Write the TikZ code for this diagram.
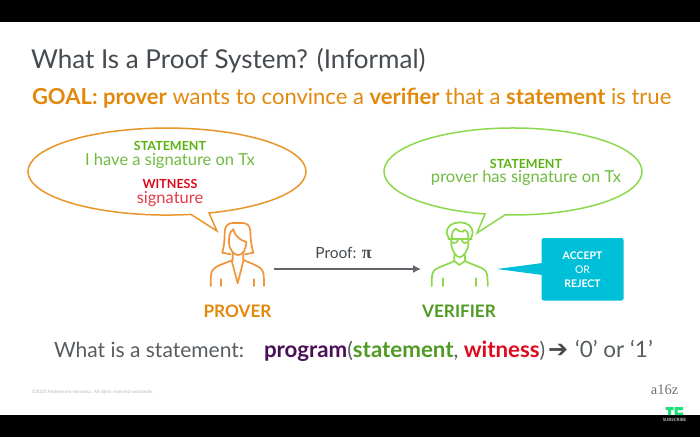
\documentclass[tikz,border=0pt]{standalone}
\usepackage{fontspec}
\usetikzlibrary{arrows.meta}
\setmainfont{Lato}
\newfontfamily\arrowfont{DejaVu Sans}
\newfontfamily\logofont{Liberation Serif}
\definecolor{titlegray}{HTML}{464B50}
\definecolor{goalorange}{HTML}{E2890C}
\definecolor{bubbleorange}{HTML}{E8952A}
\definecolor{iconorange}{HTML}{F0953A}
\definecolor{headgreen}{HTML}{5AB212}
\definecolor{textgreen}{HTML}{70BC40}
\definecolor{bubblegreen}{HTML}{8CD94E}
\definecolor{darkgreen}{HTML}{4F9A22}
\definecolor{headred}{HTML}{DF0A1E}
\definecolor{textred}{HTML}{E43C4A}
\definecolor{boxcyan}{HTML}{00BFD8}
\definecolor{progpurple}{HTML}{4A1057}
\definecolor{tcgreen}{HTML}{1EE07A}
\newcommand{\progbold}[2]{{\fontsize{22.3}{24}\selectfont\bfseries\textcolor{#1}{#2}}}
\tikzset{
  txt/.style={inner sep=0pt,outer sep=0pt},
  headlabel/.style={txt,font=\bfseries\fontsize{12.5}{14}\selectfont},
  bodylabel/.style={txt,font=\fontsize{16.5}{18}\selectfont},
  rolelabel/.style={txt,font=\bfseries\fontsize{17.2}{19}\selectfont,text=goalorange},
  bubble/.style={line width=1.5pt,fill=white,line join=miter},
  icon/.style={line width=1.7pt,line cap=round,line join=round},
}
\begin{document}
\begin{tikzpicture}[x=1pt,y=-1pt]
\useasboundingbox (0,0) rectangle (700,437);
\fill[white] (0,0) rectangle (700,437);
\fill[black] (0,0) rectangle (700,22);
\fill[black] (0,415) rectangle (700,437);

\node[txt,anchor=base west,text=titlegray,font=\fontsize{26}{30}\selectfont] (title) at (31,68) {What Is a Proof System? (Informal)};
\node[txt,anchor=base west,text=goalorange,font=\fontsize{22}{26}\selectfont] (goal) at (32,104.5) {\textbf{GOAL: prover} wants to convince a \textbf{verifier} that a \textbf{statement} is true};

% left bubble
\draw[bubble,draw=bubbleorange] (209,213) arc[start angle=-72.4,end angle=279.94,x radius=139pt,y radius=43.5pt] -- (217,231) -- cycle;
\node[headlabel,text=headgreen] (s1) at (170,146) {STATEMENT};
\node[bodylabel,text=textgreen] (s1b) at (170,161) {I have a signature on Tx};
\node[headlabel,text=headred] (w1) at (170,184) {WITNESS};
\node[bodylabel,text=textred] (w1b) at (170,199) {signature};

% right bubble
\draw[bubble,draw=bubblegreen] (505,214.9) arc[start angle=-93.55,end angle=257.5,x radius=129pt,y radius=43.5pt] -- (477,233) -- cycle;
\node[headlabel,text=headgreen] (s2) at (526,164) {STATEMENT};
\node[bodylabel,text=textgreen] (s2b) at (526,178) {prover has signature on Tx};

% prover icon
\begin{scope}[shift={(190,210)},scale=1/3,icon,draw=iconorange]
\draw (97,128) .. controls (104,100) and (104,80) .. (104,62) .. controls (106,45) and (118,39) .. (128,39) -- (158,39) .. controls (170,39) and (180,47) .. (181,62) .. controls (181,85) and (184,105) .. (190,128) -- (166,133);
\draw (97,128) -- (122,133);
\draw (130,58) .. controls (118,66) and (116,80) .. (117,98) .. controls (118,120) and (132,135) .. (145,135) .. controls (158,135) and (168,120) .. (169,96);
\draw (130,58) .. controls (134,78) and (150,90) .. (169,96);
\draw (128,128) -- (128,150) .. controls (100,162) and (76,168) .. (68,180) .. controls (63,188) and (62,195) .. (62,228);
\draw (160,128) -- (160,150) .. controls (188,162) and (208,168) .. (216,180) .. controls (221,188) and (222,195) .. (222,228);
\draw (125,152) -- (143,220) -- (160,152);
\draw (93,208) -- (93,228);
\draw (192,208) -- (192,228);
\end{scope}

% verifier icon
\begin{scope}[shift={(420,210)},scale=1/3,icon,draw=bubblegreen]
\draw (90,88) .. controls (78,75) and (76,60) .. (90,46) .. controls (106,34) and (134,34) .. (148,46) .. controls (162,60) and (160,75) .. (150,88);
\draw (96,86) .. controls (94,70) and (100,58) .. (108,56) .. controls (115,64) and (128,70) .. (134,60) .. controls (142,62) and (146,72) .. (145,86);
\draw (85,88) -- (155,88);
\draw (92,90) .. controls (93,102) and (112,102) .. (114,90);
\draw (125,90) .. controls (126,102) and (146,102) .. (147,90);
\draw (93,100) .. controls (95,120) and (106,140) .. (119,142) .. controls (132,140) and (144,120) .. (146,100);
\draw (103,136) -- (103,153) -- (118,165) -- (135,153) -- (135,136);
\draw (103,153) .. controls (80,165) and (50,172) .. (42,182) .. controls (36,190) and (35,200) .. (35,228);
\draw (135,153) .. controls (158,165) and (188,172) .. (196,182) .. controls (202,190) and (203,200) .. (203,228);
\draw (70,205) -- (70,228);
\draw (167,205) -- (167,228);
\end{scope}

\node[rolelabel] (prover) at (237.5,311) {PROVER};
\node[rolelabel,text=darkgreen] (verifier) at (459,311) {VERIFIER};

% proof arrow
\coordinate (arrowstart) at (274,269);
\coordinate (arrowend) at (421,269);
\draw[line width=1.4pt,color=titlegray!85,-{Latex[length=8pt,width=8pt]}] (arrowstart) -- (arrowend);
\node[txt,text=titlegray,font=\fontsize{15.5}{17}\selectfont] (prooflabel) at (343.5,253) {Proof: {\logofont\bfseries\fontsize{18}{18}\selectfont π}};

% accept box
\fill[boxcyan,rounded corners=2pt] (541.7,238) rectangle (623.5,300.5);
\fill[boxcyan] (542.5,263) -- (497,269) -- (542.5,275) -- cycle;
\node[txt,align=center,text=white,font=\fontsize{10.5}{13.7}\selectfont] (decision) at (582.5,269.5) {\textbf{ACCEPT}\\OR\\\textbf{REJECT}};

% bottom line
\node[txt,anchor=base west,text=titlegray!90,font=\fontsize{21}{24}\selectfont] (q) at (54,357) {What is a statement:};
\node[txt,anchor=base west,text=titlegray!90,font=\fontsize{21}{24}\selectfont] (prog) at (264,357) {\progbold{progpurple}{program}(\progbold{darkgreen}{statement}, \progbold{headred}{witness}) };
\node[txt,anchor=base west,text=titlegray,font=\arrowfont\fontsize{24}{24}\selectfont] (zeroarrow) at (548,357) {➔};
\node[txt,anchor=base west,text=titlegray!90,font=\fontsize{22.5}{24}\selectfont] (zeroone) at (575,357) {‘0’ or ‘1’};

% footer
\node[txt,anchor=west,text=black!28,font=\fontsize{4.6}{5}\selectfont] (copy) at (32,392) {©2020 Andreessen Horowitz. All rights reserved worldwide.};
\node[txt,text=black!55,font=\logofont\fontsize{14.5}{17}\selectfont] (a16z) at (664.5,390) {a16z};
\fill[tcgreen] (665.5,407) rectangle (673.5,410) (668,410) rectangle (671,415);
\fill[tcgreen] (674.5,407) rectangle (683,410) (674.5,410) rectangle (677.5,415) (677.5,412.5) rectangle (683,415);
\node[txt,text=white!75!black,font=\bfseries\fontsize{4.4}{5}\selectfont] (sub) at (674.5,419.5) {SUBSCRIBE};
\end{tikzpicture}
\end{document}
